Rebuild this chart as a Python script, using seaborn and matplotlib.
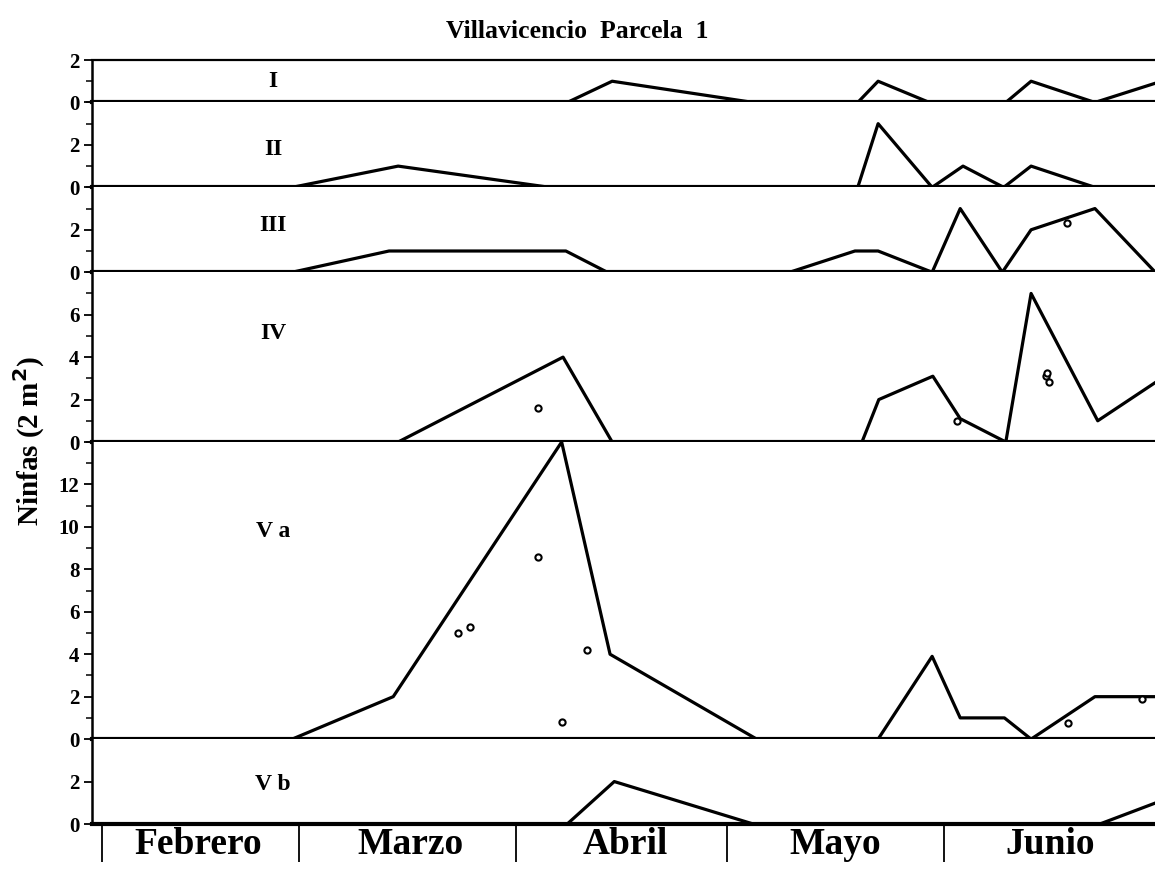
import matplotlib
matplotlib.use("Agg")
import seaborn as sns
from matplotlib import pyplot as plt
from matplotlib.ticker import MultipleLocator

# x = days counted from 1 February
months = ["Febrero", "Marzo", "Abril", "Mayo", "Junio"]
month_starts = [0, 28, 59, 89, 120]
month_centres = [13.7, 43.9, 74.5, 104.5, 135.1]

stages = ["I", "II", "III", "IV", "V a", "V b"]
stage_tops = [2, 4, 4, 8, 14, 4]
stage_ticks = [[0, 2], [0, 2], [0, 2], [0, 2, 4, 6],
               [0, 2, 4, 6, 8, 10, 12], [0, 2]]
label_y = [1.0, 1.8, 2.2, 5.1, 9.8, 1.85]

days_I = [-2, 66.3, 72.7, 92.8, 107.7, 110.6, 117.9, 128.8, 132.4, 141.5, 151]
count_I = [0, 0, 1, 0, 0, 1, 0, 0, 1, 0, 1]

days_II = [-2, 27.1, 42.2, 63.8, 107.7, 110.6, 118.3, 122.7, 128.5, 132.4, 141.5, 151]
count_II = [0, 0, 1, 0, 0, 3, 0, 1, 0, 1, 0, 0]

days_III = [-2, 27.1, 40.9, 66.1, 72.0, 98.0, 107.3, 110.6, 118.3, 122.3,
            128.3, 132.4, 141.5, 150.1]
count_III = [0, 0, 1, 1, 0, 0, 1, 1, 0, 3, 0, 2, 3, 0]

days_IV = [-2, 42.2, 65.7, 72.7, 108.3, 110.7, 118.4, 122.3, 128.8, 132.4, 141.9, 151]
count_IV = [0, 0, 4, 0, 0, 2, 3.1, 1.1, 0, 7, 1, 3.0]

days_Va = [-2, 27.1, 41.5, 65.5, 72.4, 93.3, 110.6, 118.3, 122.3, 128.6,
           132.4, 141.5, 151]
count_Va = [0, 0, 2, 14, 4, 0, 0, 3.9, 1, 1, 0, 2, 2]

days_Vb = [-2, 66.3, 73.0, 92.8, 142.2, 151]
count_Vb = [0, 0, 2, 0, 0, 1.1]

# single replicate counts (open circles)
pts_III_x = [137.5]
pts_III_y = [2.3]
pts_IV_x = [62.1, 121.8, 134.5, 135.0, 134.6]
pts_IV_y = [1.6, 1.0, 3.1, 2.85, 3.25]
pts_Va_x = [50.7, 52.4, 62.1, 69.1, 65.5, 137.7, 148.2]
pts_Va_y = [5.0, 5.3, 8.6, 4.2, 0.8, 0.75, 1.9]

lines = [(days_I, count_I), (days_II, count_II), (days_III, count_III),
         (days_IV, count_IV), (days_Va, count_Va), (days_Vb, count_Vb)]
points = {2: (pts_III_x, pts_III_y), 3: (pts_IV_x, pts_IV_y),
          4: (pts_Va_x, pts_Va_y)}

sns.set_style("ticks")
plt.rcParams["font.family"] = ["Liberation Serif", "DejaVu Serif"]
plt.rcParams["font.weight"] = "bold"
for key in ["axes.edgecolor", "text.color", "xtick.color", "ytick.color",
            "axes.labelcolor"]:
    plt.rcParams[key] = "black"

fig = plt.figure(figsize=(11.55, 8.74), dpi=100)
gs = fig.add_gridspec(6, 1, height_ratios=stage_tops, hspace=0,
                      left=92 / 1155, right=1.0, top=1 - 60 / 874,
                      bottom=1 - 824 / 874)
axes = []
for i in range(6):
    ax = fig.add_subplot(gs[i], sharex=axes[0] if axes else None)
    axes.append(ax)
    x, y = lines[i]
    sns.lineplot(x=x, y=y, ax=ax, color="black", linewidth=2.3,
                 estimator=None, sort=False)
    if i in points:
        px, py = points[i]
        sns.scatterplot(x=px, y=py, ax=ax, marker="o", s=20,
                        facecolor="white", edgecolor="black", linewidth=1.5,
                        zorder=3)
    ax.set_ylim(0, stage_tops[i])
    ax.set_yticks(stage_ticks[i])
    if i != 5:
        ax.yaxis.set_minor_locator(MultipleLocator(1))
    ax.tick_params(axis="y", which="major", length=6, width=1.3,
                   labelsize=15, pad=3, direction="out")
    ax.tick_params(axis="y", which="minor", length=4, width=1.1,
                   direction="out")
    for lab in ax.get_yticklabels():
        lab.set_fontweight("bold")
    ax.spines["right"].set_visible(False)
    ax.spines["top"].set_visible(i == 0)
    ax.spines["top"].set_linewidth(1.6)
    ax.spines["left"].set_linewidth(1.8)
    ax.spines["bottom"].set_linewidth(3.0)
    ax.text(24.4, label_y[i], stages[i], ha="center", va="center",
            fontsize=17, fontweight="bold")
    ax.set_xlabel("")
    ax.set_ylabel("")
    if i != 5:
        ax.tick_params(axis="x", which="both", bottom=False, labelbottom=False)

ax = axes[-1]
ax.set_xlim(-1.43, 150.06)
ax.set_xticks(month_starts)
ax.set_xticklabels([])
ax.set_xticks(month_centres, minor=True)
ax.set_xticklabels(months, minor=True, fontsize=27, fontweight="bold")
ax.tick_params(axis="x", which="major", length=27, width=1.3, direction="out")
ax.tick_params(axis="x", which="minor", length=0, pad=2)

fig.suptitle("Villavicencio  Parcela  1", x=0.5, y=1 - 32 / 874,
             va="center", fontsize=18.5, fontweight="bold")
fig.text(29 / 1155, 1 - 441 / 874, "Ninfas (2 m$^{\\mathbf{2}}$)",
         rotation=90, ha="center", va="center", fontsize=21,
         fontweight="bold")

fig.savefig("out.png", dpi=100)
